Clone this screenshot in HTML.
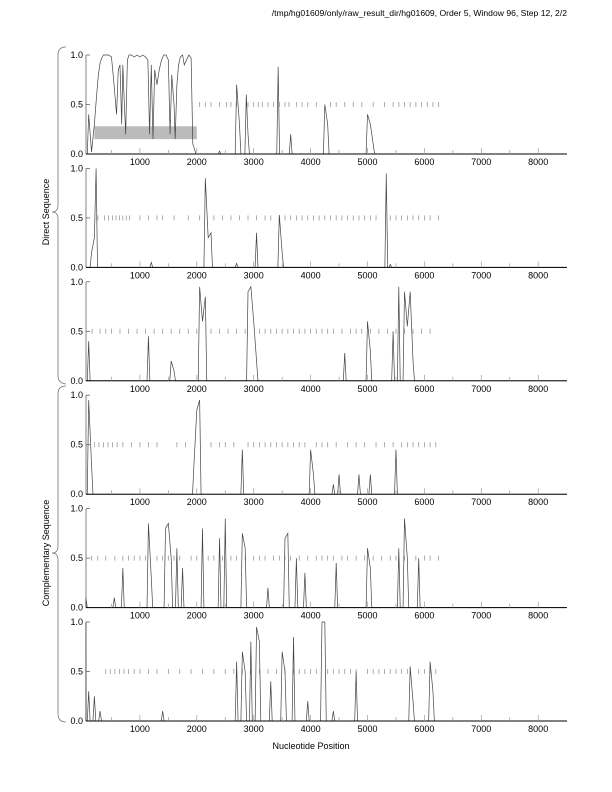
<!DOCTYPE html>
<html><head><meta charset="utf-8"><style>
body{margin:0;background:#fff;}
svg{display:block;font-family:"Liberation Sans",sans-serif;}
</style></head><body>
<svg id="chart" width="612" height="792" viewBox="0 0 612 792">
<text x="567" y="16" font-size="8.6" text-anchor="end">/tmp/hg01609/only/raw_result_dir/hg01609, Order 5, Window 96, Step 12, 2/2</text>
<text x="311" y="749" font-size="9" text-anchor="middle">Nucleotide Position</text>
<text transform="translate(49,212) rotate(-90)" font-size="9" text-anchor="middle">Direct Sequence</text>
<text transform="translate(49,553) rotate(-90)" font-size="9" text-anchor="middle">Complementary Sequence</text>
<path d="M66,47 Q58,47 58,55 L58,205 Q58,212 52,212 Q58,212 58,219 L58,376 Q58,383 66,384" fill="none" stroke="#777" stroke-width="0.8"/>
<path d="M66,386 Q58,386 58,394 L58,546 Q58,553 52,553 Q58,553 58,560 L58,714 Q58,722 66,722" fill="none" stroke="#777" stroke-width="0.8"/>
<g id="panels"></g>
</svg>
<script>
const xTicks=[1000,2000,3000,4000,5000,6000,7000,8000];
const yTicks=[0,0.5,1];
const p1Pos=[100,150,200,240,270,300,330,360,400,450,500,530,560,590,620,650,680,700,720,750,780,810,850,900,950,1000,1050,1100,1140,1170,1200,1230,1260,1300,1340,1380,1420,1460,1500,1530,1560,1600,1620,1650,1680,1710,1750,1780,1820,1860,1900,1930,1960,2400,2700,2750,2870,2900,3430,3650,4250,4300,5000,5050,5100];
const p1Val=[0.4,0.02,0.3,0.6,0.8,0.92,0.97,1,1,1,0.98,0.8,0.6,0.4,0.85,0.9,0.3,0.9,0.6,0.2,0.95,1,1,0.98,1,0.98,1,0.98,0.95,0.2,0.9,0.15,0.85,0.7,0.85,0.95,1,1,0.95,0.2,0.8,0.5,0.15,0.7,0.9,0.98,1,0.9,0.95,1,0.97,0.1,0.05,0.03,0.7,0.3,0.6,0.2,0.88,0.2,0.5,0.3,0.4,0.3,0.1];
const p2Pos=[150,200,230,1200,2150,2200,2250,2700,3050,3450,3500,5330,5400];
const p2Val=[0.15,0.3,1,0.05,0.9,0.3,0.35,0.04,0.35,0.53,0.15,0.95,0.03];
const p3Pos=[100,1150,1550,1600,2050,2100,2150,2900,2950,3000,3050,4600,5000,5050,5450,5550,5650,5700,5750,5800];
const p3Val=[0.4,0.45,0.2,0.1,0.95,0.6,0.85,0.9,0.95,0.6,0.2,0.28,0.6,0.3,0.5,0.95,0.9,0.55,0.9,0.2];
const p4Pos=[100,150,1950,2000,2050,2800,4000,4050,4400,4500,4850,5050,5500];
const p4Val=[0.95,0.3,0.3,0.85,0.95,0.45,0.45,0.2,0.1,0.2,0.2,0.2,0.45];
const p5Pos=[50,550,700,1150,1200,1450,1500,1550,1650,1750,2100,2400,2500,2800,2850,3250,3550,3600,3750,3900,4450,5000,5050,5550,5650,5700,5900];
const p5Val=[0.1,0.1,0.4,0.85,0.3,0.8,0.85,0.5,0.6,0.4,0.8,0.7,0.9,0.75,0.6,0.2,0.7,0.75,0.5,0.35,0.45,0.6,0.4,0.6,0.9,0.5,0.5];
const p6Pos=[30,100,200,300,1400,2700,2800,2850,2950,3050,3100,3300,3500,3550,3700,3950,4200,4250,4400,4800,5750,5800,6100,6150];
const p6Val=[1,0.3,0.25,0.1,0.1,0.6,0.7,0.5,0.8,0.95,0.8,0.4,0.7,0.5,0.85,0.2,1,1,0.1,0.5,0.55,0.2,0.6,0.3];
const r1=[2050,2150,2250,2400,2520,2600,2700,2900,3000,3080,3150,3250,3350,3450,3550,3620,3750,3850,3950,4100,4350,4450,4600,4750,4900,5100,5300,5450,5550,5650,5750,5850,5950,6050,6150,6250];
const r2=[260,380,450,520,580,640,700,760,820,1000,1150,1300,1400,1600,1850,2050,2300,2450,2600,2750,2900,3050,3200,3300,3450,3550,3650,3750,3850,3950,4050,4150,4250,4350,4450,4550,4650,4750,4850,4950,5050,5150,5400,5500,5600,5700,5800,5900,6000,6100,6250];
const r3=[160,300,400,500,650,800,950,1100,1250,1400,1550,1700,1850,2000,2250,2400,2550,2700,2850,3100,3200,3300,3400,3500,3600,3700,3800,3900,4000,4100,4200,4300,4400,4550,4700,4800,4900,5050,5200,5350,5500,5650,5800,5950,6100];
const r4=[200,280,360,440,520,600,700,850,1000,1150,1300,1650,1800,2250,2400,2500,2650,2900,3000,3100,3200,3300,3400,3500,3600,3700,3800,3900,4100,4200,4300,4450,4650,4800,4950,5150,5300,5450,5600,5700,5800,5900,6000,6100,6200];
const r5=[150,260,400,560,700,800,900,1000,1100,1300,1400,1500,1600,1700,1900,2000,2200,2300,2450,2600,2700,2850,3000,3100,3200,3350,3450,3550,3650,3800,3950,4100,4200,4300,4400,4550,4650,4800,4950,5100,5250,5400,5500,5650,5850,6000,6100,6250];
const r6=[400,480,560,640,720,800,900,1000,1150,1300,1500,1700,1900,2100,2300,2500,2650,2800,2950,3100,3250,3400,3550,3700,3800,3900,4000,4100,4300,4400,4500,4600,4700,4800,5000,5100,5200,5300,5400,5500,5600,5700,5900,6000,6100,6200];
const panels=[[p1Pos,p1Val,r1],[p2Pos,p2Val,r2],[p3Pos,p3Val,r3],[p4Pos,p4Val,r4],[p5Pos,p5Val,r5],[p6Pos,p6Val,r6]];
const NS='http://www.w3.org/2000/svg';
const g=document.getElementById('panels');
const X0=86,X1=567,DMIN=50,DMAX=8490;
const sx=v=>83+v*0.0569;
function mk(t,a){const e=document.createElementNS(NS,t);for(const k in a)e.setAttribute(k,a[k]);return e;}
panels.forEach((p,i)=>{
  const top=55+i*113.4,bot=top+99;
  const sy=v=>bot-v*(bot-top);
  const pg=mk('g',{});
  
  
  g.appendChild(pg);
  if(i===0){const b=mk('rect',{x:sx(200),y:sy(0.28),width:sx(2000)-sx(200),height:sy(0.15)-sy(0.28),fill:'#bbb'});
    
    
    pg.appendChild(b);}
  const ya=mk('line',{x1:X0,x2:X0,y1:top,y2:bot,stroke:'#666','stroke-width':0.8});
  
  
  pg.appendChild(ya);
  yTicks.forEach(t=>{
    pg.appendChild(mk('line',{x1:X0,x2:X0+4,y1:sy(t),y2:sy(t),stroke:'#666','stroke-width':0.8}));
    const tx=mk('text',{x:X0-3,y:sy(t)+3,'font-size':9,'text-anchor':'end'});
    
    
    tx.textContent=t.toFixed(1);pg.appendChild(tx);
  });
  p[2].forEach(v=>{
    const m=mk('line',{x1:sx(v),x2:sx(v),y1:sy(0.5)-2.5,y2:sy(0.5)+2.5,stroke:'#999','stroke-width':0.8});
    
    
    pg.appendChild(m);
  });
  const pos=p[0],val=p[1];
  let pts=[[DMIN,0]];
  pos.forEach((x,j)=>{
    const prevClose=j>0&&x-pos[j-1]<=60;
    const nextClose=j<pos.length-1&&pos[j+1]-x<=60;
    if(!prevClose)pts.push([x-25,0]);
    pts.push([x,val[j]]);
    if(!nextClose)pts.push([x+25,0]);
  });
  pts.push([DMAX,0]);
  const ln=mk('polyline',{points:pts.map(q=>sx(Math.max(DMIN,q[0]))+','+sy(q[1])).join(' '),fill:'none',stroke:'#444','stroke-width':0.7});
  
  
  pg.appendChild(ln);
  const xa=mk('line',{x1:X0,x2:X1,y1:bot,y2:bot,stroke:'#000','stroke-width':1});
  
  
  pg.appendChild(xa);
  for(let v=500;v<=8400;v+=500){pg.appendChild(mk('line',{x1:sx(v),x2:sx(v),y1:bot,y2:bot-(v%1000?4:6),stroke:'#999','stroke-width':0.7}));}
  xTicks.forEach(t=>{
    const tx=mk('text',{x:sx(t),y:bot+11,'font-size':9,'text-anchor':'middle'});
    
    
    tx.textContent=t;pg.appendChild(tx);
  });
});
</script>
</body></html>
